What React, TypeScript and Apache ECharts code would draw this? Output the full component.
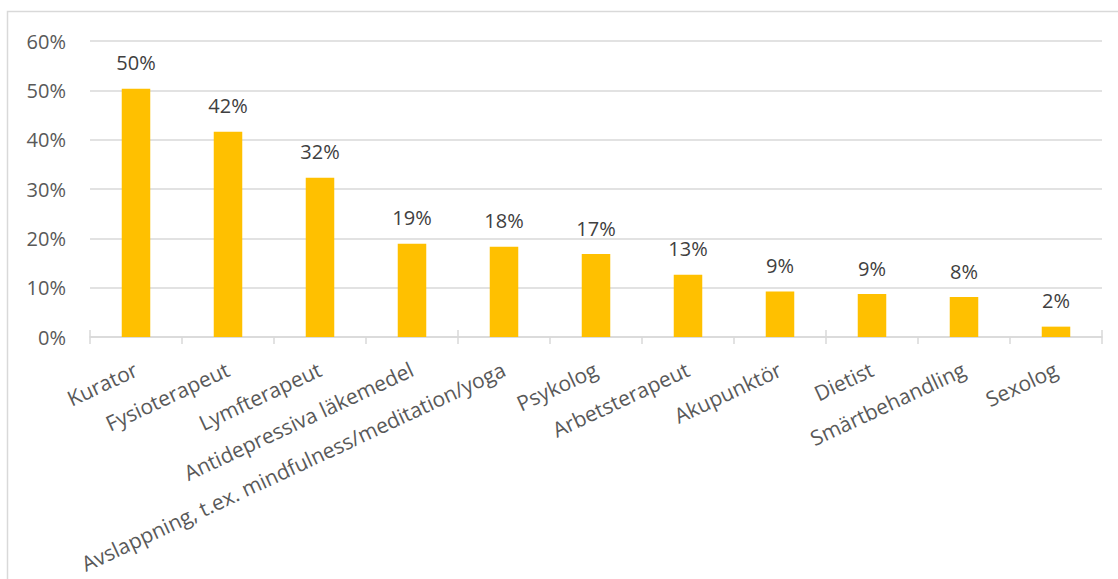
import React, { useEffect, useRef } from "react";
import * as echarts from "echarts";

const categories = [
  "Kurator",
  "Fysioterapeut",
  "Lymfterapeut",
  "Antidepressiva läkemedel",
  "Avslappning, t.ex. mindfulness/meditation/yoga",
  "Psykolog",
  "Arbetsterapeut",
  "Akupunktör",
  "Dietist",
  "Smärtbehandling",
  "Sexolog",
];
const values = [50.3, 41.6, 32.3, 18.9, 18.3, 16.8, 12.6, 9.2, 8.7, 8.1, 2.1];
const yTicks = { min: 0, max: 60, interval: 10 };

const FONT = "'Open Sans', sans-serif";
const GRAY = "#d9d9d9";

export default function App() {
  const ref = useRef<HTMLDivElement>(null);
  useEffect(() => {
    if (!ref.current) return;
    const chart = echarts.init(ref.current, undefined, { renderer: "svg" });
    chart.setOption({
      animation: false,
      backgroundColor: "#ffffff",
      textStyle: { fontFamily: FONT },
      grid: { left: 90, right: 16, top: 41, bottom: 242, containLabel: false },
      graphic: [
        {
          type: "rect",
          shape: { x: 7.5, y: 11.5, width: 1300, height: 800 },
          style: { fill: "none", stroke: GRAY, lineWidth: 1.5 },
          silent: true,
        },
      ],
      xAxis: [
        {
          type: "category",
          data: categories,
          axisLine: { lineStyle: { color: GRAY, width: 1.5 } },
          axisTick: { show: true, length: 7, lineStyle: { color: GRAY, width: 1.5 } },
          axisLabel: {
            interval: 0,
            rotate: 25,
            margin: 31,
            fontSize: 21,
            color: "#595959",
            fontFamily: FONT,
          },
        },
        {
          type: "category",
          data: categories,
          position: "bottom",
          axisLine: { show: false },
          axisTick: { show: true, inside: true, length: 7, lineStyle: { color: GRAY, width: 1.5 } },
          axisLabel: { show: false },
        },
      ],
      yAxis: {
        type: "value",
        min: yTicks.min,
        max: yTicks.max,
        interval: yTicks.interval,
        axisLine: { show: false },
        axisTick: { show: false },
        axisLabel: {
          formatter: (v: number) => `${v}%`,
          fontSize: 20,
          color: "#595959",
          margin: 24,
          fontFamily: FONT,
        },
        splitLine: { lineStyle: { color: GRAY, width: 1.5 } },
      },
      series: [
        {
          type: "bar",
          data: values,
          xAxisIndex: 0,
          barWidth: "31%",
          itemStyle: { color: "#FFC000" },
          label: {
            show: true,
            position: "top",
            distance: 16,
            fontSize: 20,
            color: "#404040",
            fontFamily: FONT,
            formatter: (p: any) => `${Math.round(p.value)}%`,
          },
        },
      ],
    });
    return () => chart.dispose();
  }, []);
  return (
    <div
      ref={ref}
      style={{ position: "fixed", left: 0, top: 0, width: 1118, height: 579 }}
    />
  );
}
